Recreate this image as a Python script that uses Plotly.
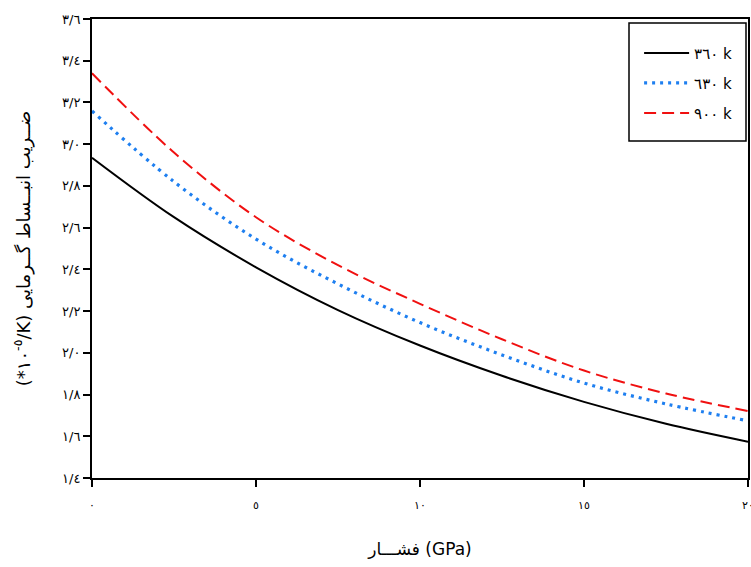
import plotly.graph_objects as go

# Data
pressure = [0, 2.5, 5, 7.5, 10, 12.5, 15, 17.5, 20]
k360 = [2.935, 2.65, 2.41, 2.205, 2.035, 1.89, 1.765, 1.66, 1.574]
k630 = [3.159, 2.82, 2.545, 2.33, 2.145, 1.99, 1.855, 1.755, 1.674]
k900 = [3.34, 2.96, 2.65, 2.42, 2.235, 2.065, 1.915, 1.805, 1.721]
series_names = ["٣٦٠ k", "٦٣٠ k", "٩٠٠ k"]

x_tickvals = [0, 5, 10, 15, 20]
x_ticktext = ["٠", "٥", "١٠", "١٥", "٢٠"]
y_tickvals = [1.4, 1.6, 1.8, 2.0, 2.2, 2.4, 2.6, 2.8, 3.0, 3.2, 3.4, 3.6]
y_ticktext = ["١/٤", "١/٦", "١/٨", "٢/٠", "٢/٢", "٢/٤", "٢/٦", "٢/٨", "٣/٠", "٣/٢", "٣/٤", "٣/٦"]

LRM = "\u200e"
y_title = "(*١٠" + LRM + "<sup>-" + LRM + "٥</sup>" + LRM + "/K) ضــریب انبــساط گــرمایی"
x_title = "فشـــار (GPa)"

fig = go.Figure()
styles = [
    dict(color="#000000", width=2, dash="solid"),
    dict(color="#1E7FF0", width=3.2, dash="3px,5px"),
    dict(color="#F01010", width=2, dash="12px,6px"),
]
for name, vals, st, g in zip(series_names, [k360, k630, k900], styles, ["a", "b", "c"]):
    fig.add_trace(go.Scatter(x=pressure, y=vals, mode="lines", name=name,
                             legendgroup=g, line=dict(shape="spline", **st)))

fig.update_layout(
    width=751, height=567,
    margin=dict(l=92, r=3, t=19, b=89, autoexpand=False),
    paper_bgcolor="white", plot_bgcolor="white",
    font=dict(family="DejaVu Sans", color="#000000"),
    showlegend=True,
    legend=dict(x=0.834, y=0.9615, xanchor="left", yanchor="top",
                bgcolor="rgba(0,0,0,0)", borderwidth=0,
                traceorder="grouped", tracegroupgap=7.5, itemwidth=45,
                font=dict(size=15, family="DejaVu Sans")),
    shapes=[dict(type="rect", xref="paper", yref="paper",
                 x0=(629 - 92) / 656, x1=(746 - 92) / 656,
                 y0=1 - (141 - 19) / 459, y1=1 - (23 - 19) / 459,
                 line=dict(color="black", width=1.5), fillcolor="white", layer="below")],
)
fig.update_xaxes(
    range=[0, 20], tickvals=x_tickvals, ticktext=x_ticktext,
    showgrid=False, zeroline=False, showline=True, linecolor="black", linewidth=2,
    mirror=True, ticks="outside", ticklen=7, tickwidth=1.5, tickcolor="black",
    ticklabelstandoff=9, ticklabeloverflow="allow", tickfont=dict(size=11),
    title=dict(text=x_title, font=dict(size=17), standoff=32),
)
fig.update_yaxes(
    range=[1.4, 3.6], tickvals=y_tickvals, ticktext=y_ticktext,
    showgrid=False, zeroline=False, showline=True, linecolor="black", linewidth=2,
    mirror=True, ticks="outside", ticklen=7, tickwidth=1.5, tickcolor="black",
    tickfont=dict(size=13),
    title=dict(text=y_title, font=dict(size=18), standoff=27),
)
fig.write_html("out.html", config={"displayModeBar": False},
               post_script="document.body.style.margin='0';document.body.style.overflow='hidden';")
